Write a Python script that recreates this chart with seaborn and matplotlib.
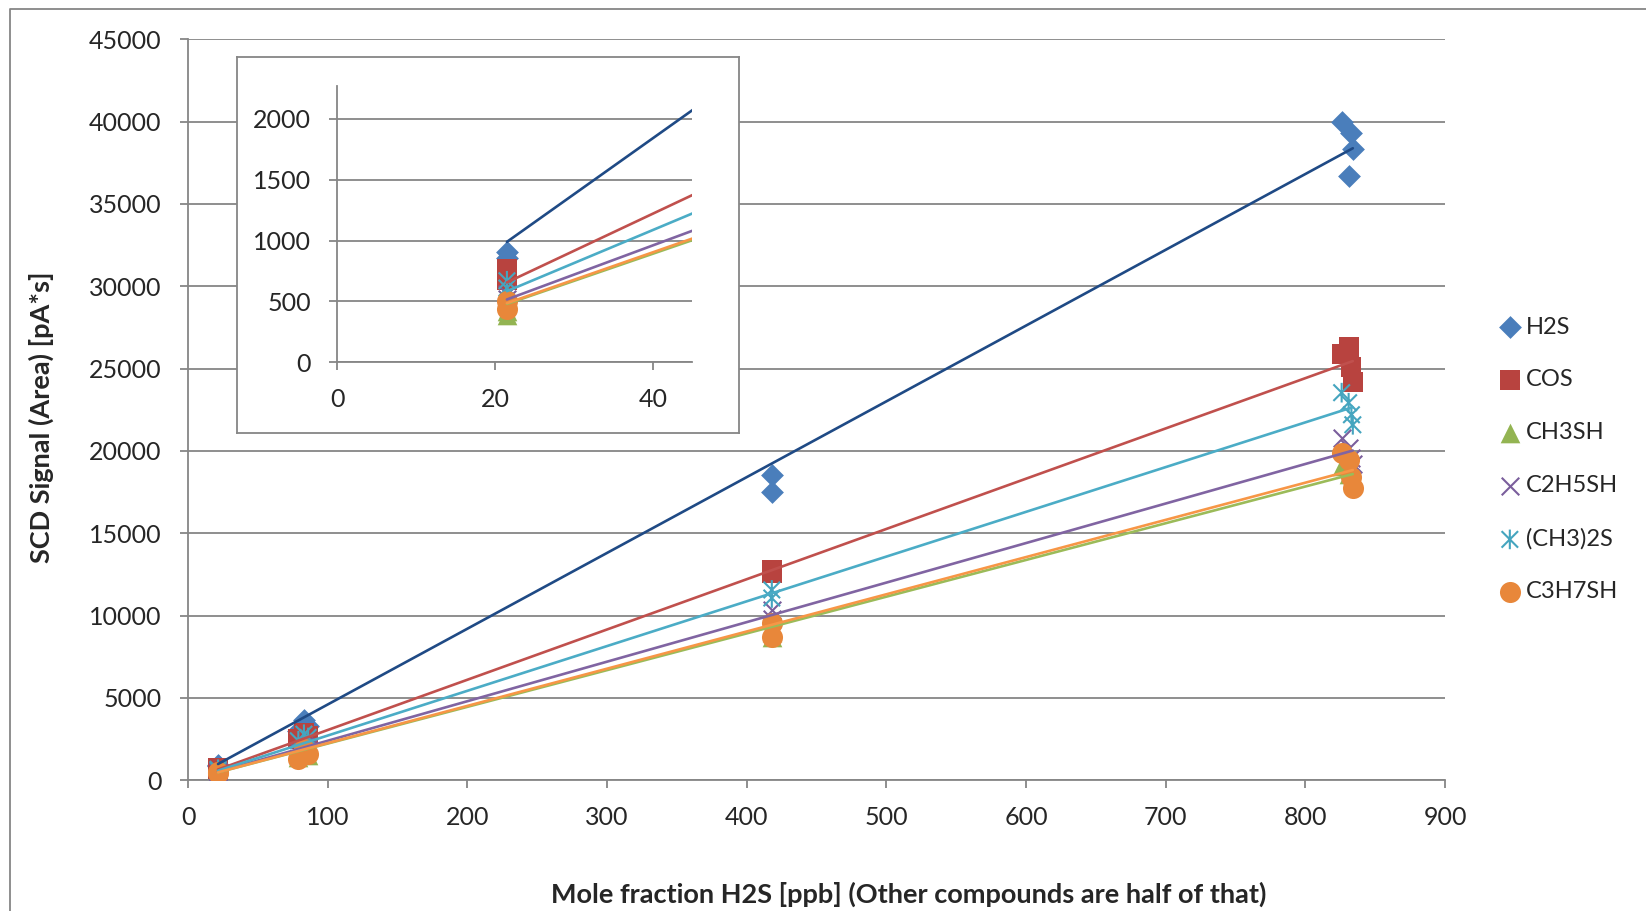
"""Sulfur compound SCD calibration: signal area vs. H2S mole fraction, with low-range inset."""

import matplotlib

matplotlib.use("Agg")
import matplotlib.pyplot as plt
from matplotlib.lines import Line2D
from matplotlib.path import Path
import numpy as np
import pandas as pd
import seaborn as sns

# data
COMPOUNDS = ["H2S", "COS", "CH3SH", "C2H5SH", "(CH3)2S", "C3H7SH"]
X_PPB = [21.5, 21.5, 79, 83, 86, 418, 418, 826, 831, 833, 834]

H2S = [905, 855, 3000, 3650, 3300, 18550, 17520, 40000, 36700, 39300, 38350]
COS = [770, 680, 2500, 2900, 2700, 12770, 12600, 25900, 26300, 25100, 24200]
CH3SH = [420, 385, 1400, 1700, 1550, 9000, 8700, 19100, 18600, 18900, 18100]
C2H5SH = [560, 520, 1800, 2100, 1950, 10340, 9800, 20800, 20200, 19600, 19200]
CH3_2S = [670, 610, 2400, 2800, 2600, 11560, 11070, 23540, 22930, 22200, 21590]
C3H7SH = [500, 440, 1300, 1900, 1600, 9550, 8700, 19900, 19450, 18400, 17760]

SIGNALS = [H2S, COS, CH3SH, C2H5SH, CH3_2S, C3H7SH]

MARKER_COLORS = ["#4A7EBB", "#B8433F", "#93B452", "#7A5E9C", "#45A5BF", "#E8873A"]
LINE_COLORS = ["#1F4A85", "#C0504D", "#9BBB59", "#8064A2", "#4BACC6", "#F79646"]
GREY = "#868686"

ASTERISK = Path(
    [(0, -0.5), (0, 0.5), (-0.42, -0.42), (0.42, 0.42), (-0.42, 0.42), (0.42, -0.42)],
    [Path.MOVETO, Path.LINETO, Path.MOVETO, Path.LINETO, Path.MOVETO, Path.LINETO],
)
MARKERS = ["D", "s", "^", "x", ASTERISK, "o"]
SIZES = [135, 200, 200, 160, 200, 230]

sns.set_style("white")
plt.rcParams["font.family"] = ["Lato", "DejaVu Sans"]

frames = []
for name, values in zip(COMPOUNDS, SIGNALS):
    frames.append(pd.DataFrame({"compound": name, "x": X_PPB, "signal": values}))
data = pd.concat(frames, ignore_index=True)


def draw_series(ax):
    # markers first, trendlines (fit through origin) on top
    for i, name in enumerate(COMPOUNDS):
        sub = data[data["compound"] == name]
        kws = dict(marker=MARKERS[i], s=SIZES[i], zorder=3, ax=ax, label=name)
        if MARKERS[i] == "x":
            kws.update(color=MARKER_COLORS[i], linewidth=1.5)
        elif MARKERS[i] is ASTERISK:
            kws.update(facecolor="none", edgecolor=MARKER_COLORS[i], linewidth=1.5)
        else:
            kws.update(color=MARKER_COLORS[i], linewidth=0)
        sns.scatterplot(x=sub["x"].to_numpy(), y=sub["signal"].to_numpy(), **kws)
    for i, name in enumerate(COMPOUNDS):
        sub = data[data["compound"] == name]
        x = sub["x"].to_numpy(float)
        y = sub["signal"].to_numpy(float)
        slope = np.sum(x * y) / np.sum(x * x)
        xs = np.array([x.min(), x.max()])
        sns.lineplot(x=xs, y=slope * xs, color=LINE_COLORS[i], linewidth=1.9, zorder=4, ax=ax)


def style_axes(ax, labelsize, xpad, ypad):
    for side in ("top", "right"):
        ax.spines[side].set_visible(False)
    for side in ("left", "bottom"):
        ax.spines[side].set_color(GREY)
        ax.spines[side].set_linewidth(1.3)
    ax.grid(axis="y", color=GREY, linewidth=1.3)
    ax.grid(axis="x", visible=False)
    ax.set_axisbelow(True)
    ax.tick_params(axis="both", direction="out", length=6, width=1.3, color=GREY, labelsize=labelsize)
    ax.tick_params(axis="x", pad=xpad, bottom=True)
    ax.tick_params(axis="y", pad=ypad, left=True)
    ax.set_xlabel("")
    ax.set_ylabel("")


fig = plt.figure(figsize=(16.46, 9.11), dpi=100)

ax = fig.add_axes([0.11422, 0.14347, 0.76367, 0.81339])
draw_series(ax)
ax.set_xlim(0, 900)
ax.set_ylim(0, 45000)
ax.set_xticks(range(0, 901, 100))
ax.set_yticks(range(0, 45001, 5000))
style_axes(ax, 18, 12.5, 13)
if ax.get_legend() is not None:
    ax.get_legend().remove()
handles, labels = ax.get_legend_handles_labels()

ax.set_xlabel("Mole fraction H2S [ppb] (Other compounds are half of that)", fontsize=19.5, fontweight="bold")
ax.xaxis.set_label_coords(0.5736, -0.1534)
ax.xaxis.label.set_va("center")
ax.set_ylabel("SCD Signal (Area) [pA*s]", fontsize=19.5, fontweight="bold")
ax.yaxis.set_label_coords(-0.1169, 0.4896)
ax.yaxis.label.set_va("center")

# white box behind the inset
box = fig.add_axes([0.1438, 0.52437, 0.30517, 0.41273])
box.set_xticks([])
box.set_yticks([])
for side in box.spines.values():
    side.set_color(GREY)
    side.set_linewidth(1.3)
    side.set_visible(True)
box.set_facecolor("white")

inset = fig.add_axes([0.20492, 0.6023, 0.21567, 0.30329])
draw_series(inset)
inset.set_xlim(0, 45)
inset.set_ylim(0, 2270)
inset.set_xticks([0, 20, 40])
inset.set_yticks(range(0, 2001, 500))
style_axes(inset, 18, 12.5, 13)
if inset.get_legend() is not None:
    inset.get_legend().remove()

fig.legend(
    handles,
    labels,
    loc="upper left",
    bbox_to_anchor=(0.9101, 0.6525),
    frameon=False,
    fontsize=17,
    handlelength=1.0,
    handletextpad=0.2,
    labelspacing=1.35,
    borderpad=0,
    borderaxespad=0,
)

# chart-area border (top and left edges visible in the crop)
fig.add_artist(
    Line2D([10 / 1646, 10 / 1646, 1], [0, 1 - 9 / 911, 1 - 9 / 911], transform=fig.transFigure, color=GREY, linewidth=1.3)
)

fig.savefig("out.png", dpi=100)
plt.close(fig)
